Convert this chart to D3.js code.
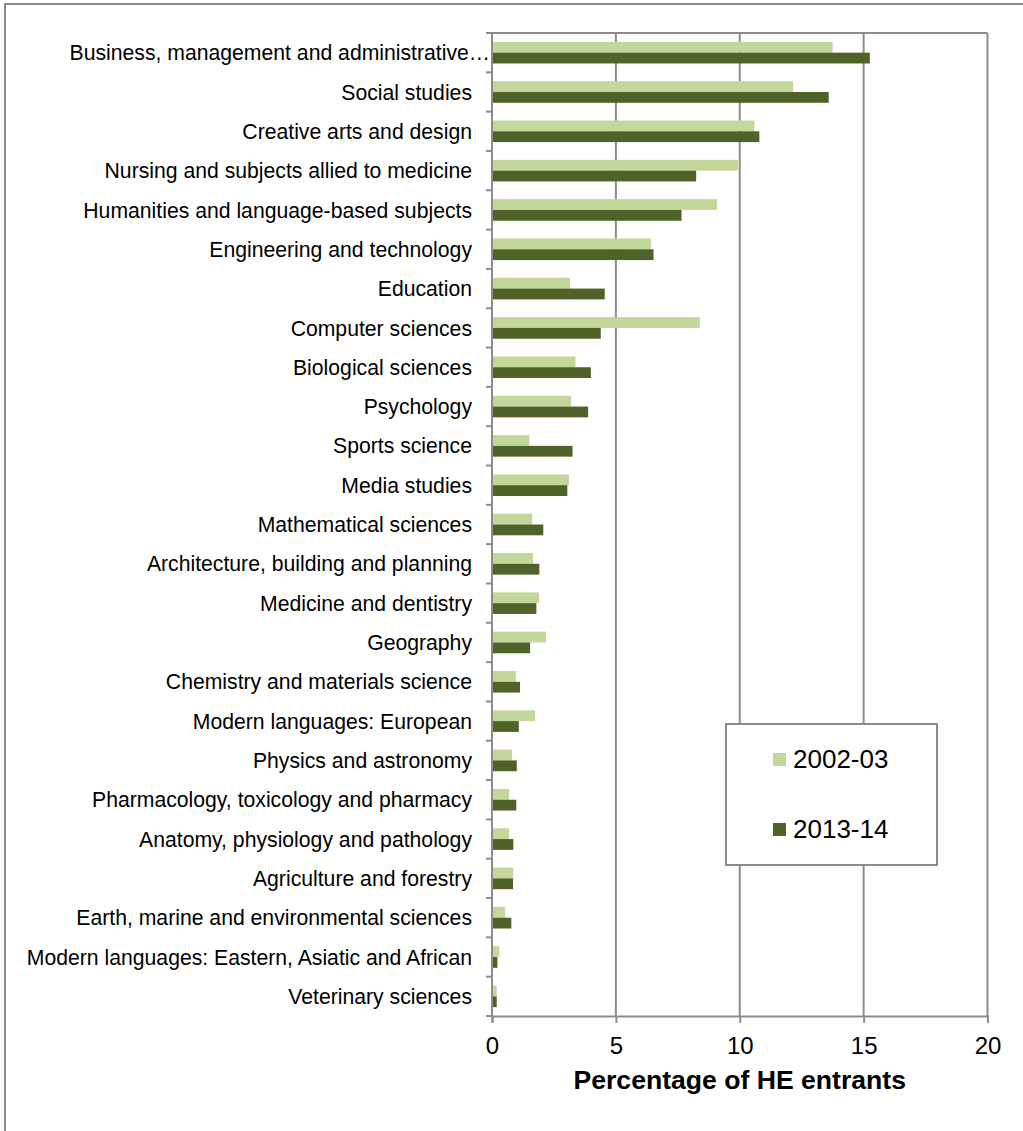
<!DOCTYPE html>
<html>
<head>
<meta charset="utf-8">
<script src="https://cdn.jsdelivr.net/npm/d3@7/dist/d3.min.js"></script>
<style>
  html, body { margin: 0; padding: 0; background: #fff; }
  svg { display: block; font-family: "Liberation Sans", Arial, sans-serif; }
</style>
</head>
<body>
<svg id="chart" width="1023" height="1131"></svg>
<script>
// Subject areas, top to bottom
const categories = [
  "Business, management and administrative…",
  "Social studies",
  "Creative arts and design",
  "Nursing and subjects allied to medicine",
  "Humanities and language-based subjects",
  "Engineering and technology",
  "Education",
  "Computer sciences",
  "Biological sciences",
  "Psychology",
  "Sports science",
  "Media studies",
  "Mathematical sciences",
  "Architecture, building and planning",
  "Medicine and dentistry",
  "Geography",
  "Chemistry and materials science",
  "Modern languages: European",
  "Physics and astronomy",
  "Pharmacology, toxicology and pharmacy",
  "Anatomy, physiology and pathology",
  "Agriculture and forestry",
  "Earth, marine and environmental sciences",
  "Modern languages: Eastern, Asiatic and African",
  "Veterinary sciences"
];

// Share of HE entrants (%), 2002-03
const values2002 = [
  13.75, 12.15, 10.59, 9.94, 9.09, 6.42, 3.15, 8.39, 3.37, 3.19,
  1.51, 3.11, 1.62, 1.66, 1.90, 2.18, 0.96, 1.74, 0.81, 0.69,
  0.69, 0.86, 0.53, 0.30, 0.19
];

// Share of HE entrants (%), 2013-14
const values2013 = [
  15.25, 13.59, 10.79, 8.24, 7.65, 6.52, 4.55, 4.39, 3.99, 3.88,
  3.25, 3.04, 2.07, 1.91, 1.79, 1.54, 1.13, 1.08, 1.00, 0.98,
  0.86, 0.85, 0.78, 0.22, 0.19
];

const seriesNames = ["2002-03", "2013-14"];
const xTicks = [0, 5, 10, 15, 20];
const axisTitle = "Percentage of HE entrants";

const colors = { "2002-03": "#c4d79b", "2013-14": "#4f6228" };
const gridColor = "#8c8c8c";

const rows = categories.map((c, i) => ({
  category: c,
  values: [
    { series: seriesNames[0], value: values2002[i] },
    { series: seriesNames[1], value: values2013[i] }
  ]
}));

const svg = d3.select("#chart");

// Outer chart frame (runs off the right and bottom of the canvas)
svg.append("rect")
  .attr("x", 5).attr("y", 4)
  .attr("width", 1040).attr("height", 1160)
  .attr("fill", "none").attr("stroke", gridColor).attr("stroke-width", 2);

const plot = { left: 492, right: 987.5, top: 33, bottom: 1016 };

const x = d3.scaleLinear().domain([0, 20]).range([plot.left, plot.right]);
const y = d3.scaleBand().domain(categories).range([plot.top, plot.bottom]).padding(0);
const ySeries = d3.scaleBand().domain(seriesNames).range([0, y.bandwidth()])
  .paddingInner(0).paddingOuter(0.82);

// Vertical gridlines
svg.append("g")
  .selectAll("line")
  .data(xTicks.filter(t => t > 0))
  .join("line")
  .attr("x1", d => x(d)).attr("x2", d => x(d))
  .attr("y1", plot.top).attr("y2", plot.bottom)
  .attr("stroke", gridColor).attr("stroke-width", 2);

// Plot area top edge
svg.append("line")
  .attr("x1", plot.left).attr("x2", x(20))
  .attr("y1", plot.top).attr("y2", plot.top)
  .attr("stroke", gridColor).attr("stroke-width", 2);

// Bars
const groups = svg.append("g")
  .selectAll("g")
  .data(rows)
  .join("g")
  .attr("transform", d => `translate(0,${y(d.category)})`);

groups.selectAll("rect")
  .data(d => d.values)
  .join("rect")
  .attr("x", x(0))
  .attr("y", d => ySeries(d.series))
  .attr("width", d => x(d.value) - x(0))
  .attr("height", ySeries.bandwidth())
  .attr("fill", d => colors[d.series]);

// Y axis: ticks at category boundaries, labels centred on bands
const yAxisG = svg.append("g");
const boundaries = categories.map(c => y(c)).concat([plot.bottom]);
yAxisG.selectAll("line.tick")
  .data(boundaries)
  .join("line")
  .attr("class", "tick")
  .attr("x1", plot.left - 6).attr("x2", plot.left)
  .attr("y1", d => d).attr("y2", d => d)
  .attr("stroke", gridColor).attr("stroke-width", 2);
yAxisG.append("line")
  .attr("x1", plot.left).attr("x2", plot.left)
  .attr("y1", plot.top).attr("y2", plot.bottom)
  .attr("stroke", gridColor).attr("stroke-width", 2);
yAxisG.selectAll("text")
  .data(categories)
  .join("text")
  // a truncated label lets its ellipsis run on toward the axis
  .attr("x", d => d.endsWith("…") ? 490 : 472)
  .attr("y", d => y(d) + y.bandwidth() / 2 + 7.6)
  .attr("text-anchor", "end")
  .attr("font-size", 21.2)
  .attr("fill", "#000")
  .text(d => d);

// X axis
const xAxis = d3.axisBottom(x).tickValues(xTicks).tickSize(7).tickPadding(14)
  .tickFormat(d3.format("d"));
const xAxisG = svg.append("g")
  .attr("transform", `translate(0,${plot.bottom})`)
  .call(xAxis);
xAxisG.select(".domain").attr("stroke", gridColor).attr("stroke-width", 2);
xAxisG.selectAll(".tick line").attr("stroke", gridColor).attr("stroke-width", 2);
xAxisG.selectAll(".tick text")
  .attr("font-size", 24)
  .attr("font-family", "\"Liberation Sans\", Arial, sans-serif")
  .attr("fill", "#000");

// Axis title
svg.append("text")
  .attr("x", (x(0) + x(20)) / 2)
  .attr("y", 1089)
  .attr("text-anchor", "middle")
  .attr("font-size", 26.6)
  .attr("font-weight", "bold")
  .attr("fill", "#000")
  .text(axisTitle);

// Legend
const legend = svg.append("g");
legend.append("rect")
  .attr("x", 726).attr("y", 724)
  .attr("width", 211).attr("height", 141)
  .attr("fill", "#fff").attr("stroke", gridColor).attr("stroke-width", 2);
const legendItems = legend.selectAll("g.item")
  .data(seriesNames)
  .join("g")
  .attr("class", "item")
  .attr("transform", (d, i) => `translate(773,${753 + i * 70})`);
legendItems.append("rect")
  .attr("width", 13).attr("height", 13)
  .attr("fill", d => colors[d]);
legendItems.append("text")
  .attr("x", 20).attr("y", 15)
  .attr("font-size", 26)
  .attr("fill", "#000")
  .text(d => d);
</script>
</body>
</html>
